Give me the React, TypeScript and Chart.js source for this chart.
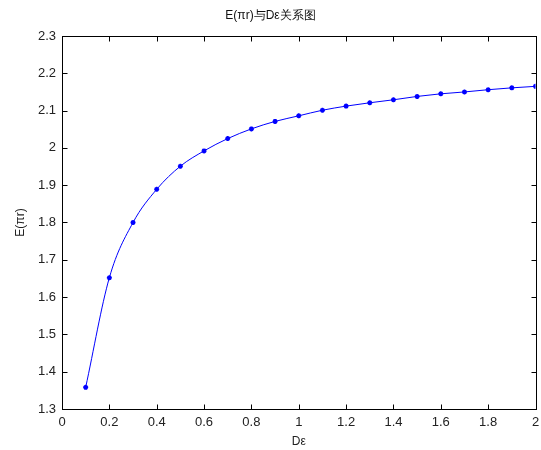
import React, { useEffect, useRef } from "react";
import { Chart, registerables } from "chart.js";

Chart.register(...registerables);

const xValues = [0.1, 0.2, 0.3, 0.4, 0.5, 0.6, 0.7, 0.8, 0.9, 1.0, 1.1, 1.2, 1.3, 1.4, 1.5, 1.6, 1.7, 1.8, 1.9, 2.0];
const yValues = [1.358, 1.652, 1.800, 1.889, 1.951, 1.992, 2.025, 2.051, 2.071, 2.086, 2.101, 2.112, 2.121, 2.129, 2.138, 2.145, 2.150, 2.156, 2.161, 2.165];
const xTicks = [0, 0.2, 0.4, 0.6, 0.8, 1, 1.2, 1.4, 1.6, 1.8, 2];
const yTicks = [1.3, 1.4, 1.5, 1.6, 1.7, 1.8, 1.9, 2.0, 2.1, 2.2, 2.3];
const titleText = "E(πr)与Dε关系图";
const xTitle = "Dε";
const yTitle = "E(πr)";

const FONT = "'Liberation Sans', Arial, Helvetica, sans-serif";

const boxPlugin = {
  id: "matlabBox",
  afterDraw(chart: any) {
    const { ctx, chartArea } = chart;
    const { left, right, top, bottom } = chartArea;
    const xs = chart.scales.x;
    const ys = chart.scales.y;
    ctx.save();
    ctx.strokeStyle = "#000";
    ctx.lineWidth = 1;
    const L = Math.round(left) + 0.5;
    const R = Math.round(right) + 0.5;
    const T = Math.round(top) + 0.5;
    const B = Math.round(bottom) + 0.5;
    ctx.strokeRect(L, T, R - L, B - T);
    const len = 5;
    ctx.beginPath();
    xTicks.forEach((v) => {
      const px = Math.round(xs.getPixelForValue(v)) + 0.5;
      ctx.moveTo(px, B);
      ctx.lineTo(px, B - len);
      ctx.moveTo(px, T);
      ctx.lineTo(px, T + len);
    });
    yTicks.forEach((v) => {
      const py = Math.round(ys.getPixelForValue(v)) + 0.5;
      ctx.moveTo(L, py);
      ctx.lineTo(L + len, py);
      ctx.moveTo(R, py);
      ctx.lineTo(R - len, py);
    });
    ctx.stroke();
    ctx.restore();
  },
};

export default function App() {
  const ref = useRef<HTMLCanvasElement>(null);
  useEffect(() => {
    document.body.style.margin = "0";
    const chart = new Chart(ref.current!, {
      type: "line",
      data: {
        datasets: [
          {
            data: xValues.map((x, i) => ({ x, y: yValues[i] })),
            borderColor: "#0000ff",
            backgroundColor: "#0000ff",
            borderWidth: 1,
            pointStyle: "star",
            pointRadius: 2.5,
            pointBorderWidth: 1.5,
            pointBorderColor: "#0000ff",
            cubicInterpolationMode: "monotone",
            fill: false,
          },
        ],
      },
      options: {
        responsive: false,
        animation: false,
        layout: { padding: { left: 0, right: 0, top: 0, bottom: 0 } },
        plugins: {
          legend: { display: false },
          tooltip: { enabled: false },
          title: {
            display: true,
            text: titleText,
            color: "#111",
            font: { family: FONT, size: 12, weight: "normal" },
            padding: { top: 8, bottom: 13.6 },
          },
        },
        scales: {
          x: {
            type: "linear",
            min: 0,
            max: 2,
            afterBuildTicks: (s: any) => {
              s.ticks = xTicks.map((v) => ({ value: v }));
            },
            afterFit: (s: any) => {
              s.height = 41;
              s.paddingRight = 1;
            },
            grid: { display: false, drawTicks: false },
            border: { display: false },
            ticks: {
              autoSkip: false,
              maxRotation: 0,
              padding: 6,
              color: "#222",
              font: { family: FONT, size: 13 },
              callback: (v: any) => String(Number(Number(v).toFixed(1))),
            },
            title: {
              display: true,
              text: xTitle,
              color: "#222",
              font: { family: FONT, size: 12 },
              padding: { top: 0, bottom: 1 },
            },
          },
          y: {
            type: "linear",
            min: 1.3,
            max: 2.3,
            afterBuildTicks: (s: any) => {
              s.ticks = yTicks.map((v) => ({ value: v }));
            },
            afterFit: (s: any) => {
              s.width = 62;
            },
            grid: { display: false, drawTicks: false },
            border: { display: false },
            ticks: {
              autoSkip: false,
              padding: 6,
              color: "#222",
              font: { family: FONT, size: 13 },
              callback: (v: any) => String(Number(Number(v).toFixed(1))),
            },
            title: {
              display: true,
              text: yTitle,
              color: "#222",
              font: { family: FONT, size: 12 },
              padding: { top: 13, bottom: 0 },
            },
          },
        },
      },
      plugins: [boxPlugin],
    } as any);
    return () => chart.destroy();
  }, []);
  return (
    <div style={{ width: 541, height: 450 }}>
      <canvas ref={ref} width={541} height={450} />
    </div>
  );
}
